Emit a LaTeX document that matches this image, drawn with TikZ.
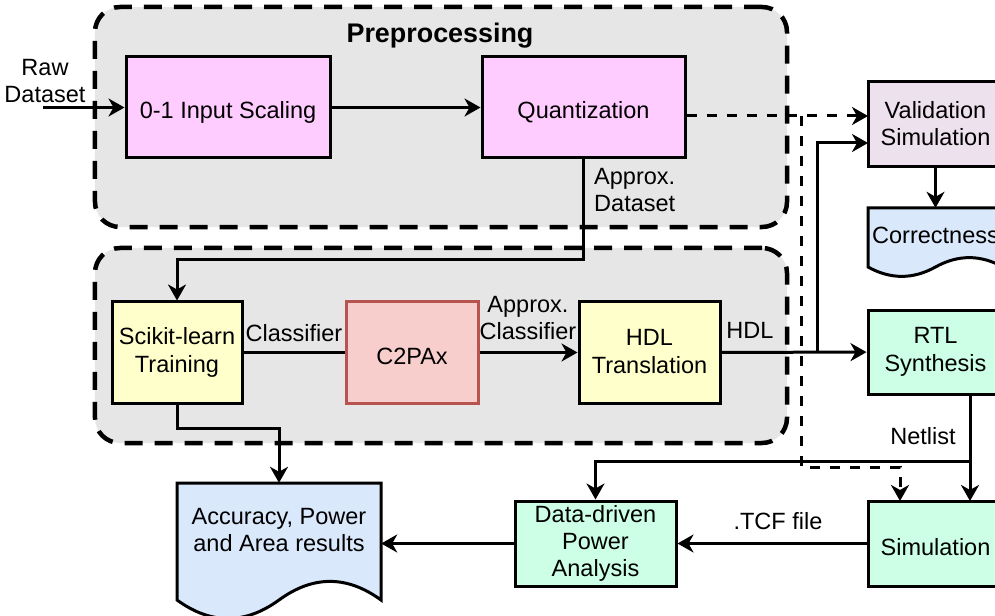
\documentclass[tikz,border=0pt]{standalone}
\usepackage{fontspec}
\setmainfont{Liberation Sans}
\usetikzlibrary{arrows.meta}

\definecolor{grpfill}{HTML}{E6E6E6}
\definecolor{pinkfill}{HTML}{FFCCFF}
\definecolor{yellowfill}{HTML}{FFFFCC}
\definecolor{redfill}{HTML}{F8CECC}
\definecolor{redline}{HTML}{B85450}
\definecolor{lilac}{HTML}{EDE1ED}
\definecolor{mint}{HTML}{CCFFE6}
\definecolor{docblue}{HTML}{DAE8FC}

\tikzset{
  txt/.style={font=\fontsize{23.6}{27.5}\selectfont},
  lbl/.style={txt, align=center, inner sep=0pt},
  % fixed strut so that text sits the same way in every box, whatever its letters
  boxtxt/.style={lbl,
    execute at begin node={\rule{0pt}{26bp}},
    execute at end node={\rule[-2.5bp]{0pt}{2.5bp}}},
  box/.style={boxtxt, draw, line width=3bp},
  grp/.style={draw, line width=4.5bp, dash pattern=on 18bp off 12bp,
              rounded corners=25bp, fill=grpfill, inner sep=0pt},
  docshape/.style={draw, line width=3bp, fill=docblue},
  wire/.style={line width=3bp},
  conn/.style={wire, -{Stealth[length=16bp, width=18bp, inset=5bp]}},
  dconn/.style={conn, dash pattern=on 10bp off 10bp},
}

\begin{document}
\begin{tikzpicture}[x=1bp, y=-1bp]
\clip (0,0) rectangle (995,616);

% the two dashed groups
\node[grp, minimum width=692bp, minimum height=220bp] (pregrp) at (441,117) {};
\node[grp, minimum width=692bp, minimum height=195bp] (traingrp) at (441,345.5) {};
\node[lbl, font=\bfseries\fontsize{27}{30}\selectfont] (pretitle) at (440,36) {Preprocessing};

% process boxes
\node[box, fill=pinkfill, minimum width=204bp, minimum height=101bp] (scale) at (228,107.5) {0-1 Input Scaling};
\node[box, fill=pinkfill, minimum width=203bp, minimum height=101bp] (quant) at (583.5,107.5) {Quantization};
\node[box, fill=lilac, minimum width=135bp, minimum height=85bp] (valid) at (935.5,124.5) {Validation\\Simulation};
\node[box, fill=yellowfill, minimum width=130bp, minimum height=101bp] (scikit) at (177,352.5) {Scikit-learn\\Training};
\node[box, fill=redfill, draw=redline, minimum width=132bp, minimum height=101bp] (c2pax) at (412,352.5) {C2PAx};
\node[box, fill=yellowfill, minimum width=141bp, minimum height=101bp] (hdl) at (649.5,352.5) {HDL\\Translation};
\node[box, fill=mint, minimum width=135bp, minimum height=84bp] (rtl) at (935.5,352) {RTL\\Synthesis};
\node[box, fill=mint, minimum width=135bp, minimum height=85bp] (sim) at (935.5,543.5) {Simulation};
\node[box, fill=mint, minimum width=161bp, minimum height=85bp] (ddpa) at (595.5,543.5) {Data-driven\\Power\\Analysis};

% document shapes with wavy bottom
\path[docshape] (177,483) -- (381,483) -- (381,600)
  .. controls (347,575.2) and (313,575.2) .. (279,600)
  .. controls (245,624.7) and (211,624.7) .. (177,600) -- cycle;
\node[boxtxt, minimum width=204bp, minimum height=96bp] (acc) at (279,531) {Accuracy, Power\\and Area results};
\path[docshape] (868,208) -- (1003,208) -- (1003,267)
  .. controls (980.5,254.5) and (958,254.5) .. (935.5,267)
  .. controls (913,279.5) and (890.5,279.5) .. (868,267) -- cycle;
\node[boxtxt, minimum width=135bp, minimum height=48bp] (corr) at (935.5,232) {Correctness};

% connector labels
\node[lbl] (rawlbl) at (45,81) {Raw\\Dataset};
\node[lbl, anchor=west, align=left] (adlbl) at (594,190) {Approx.\\Dataset};
\node[lbl] (clslbl) at (294,333) {Classifier};
\node[lbl] (aclbl) at (528,318) {Approx.\\Classifier};
\node[lbl] (hdllbl) at (750,330) {HDL};
\node[lbl] (netlbl) at (923,436) {Netlist};
\node[lbl] (tcflbl) at (778,521) {.TCF file};

% free ends and bends
\coordinate (rawin) at (43,107.5);
\coordinate (vin1) at (868,116);
\coordinate (vin2) at (868,143);
\coordinate (dsplit) at (801,116);
\coordinate (dturn) at (900,467);
\coordinate (simin2) at (900,501);
\coordinate (hdlsplit) at (817,352.5);
\coordinate (rtlout) at (970,394);
\coordinate (simin1) at (970,501);
\coordinate (nsplit) at (970,461);
\coordinate (accturn) at (279,428);
\coordinate (adturn) at (583.5,260);

% connectors
\draw[conn] (rawin) -- (scale.west);
\draw[conn] (scale) -- (quant);
\draw[conn] (quant.south) -- (adturn) -| (scikit.north);
\draw[dconn] (quant.east |- vin1) -- (vin1);
\draw[dconn] (dsplit) |- (dturn) -- (simin2);
\draw[wire] (scikit) -- (c2pax);
\draw[conn] (c2pax) -- (hdl);
\draw[conn] (hdl) -- (rtl);
\draw[conn] (hdlsplit) |- (vin2);
\draw[conn] (valid.south) -- (corr.north);
\draw[conn] (rtlout) -- (simin1);
\draw[conn] (nsplit) -| (ddpa.north);
\draw[conn] (sim) -- (ddpa);
\draw[conn] (ddpa.west) -- (ddpa.west -| acc.east);
\draw[conn] (scikit.south) |- (accturn) -- (acc.north);
\end{tikzpicture}
\end{document}
